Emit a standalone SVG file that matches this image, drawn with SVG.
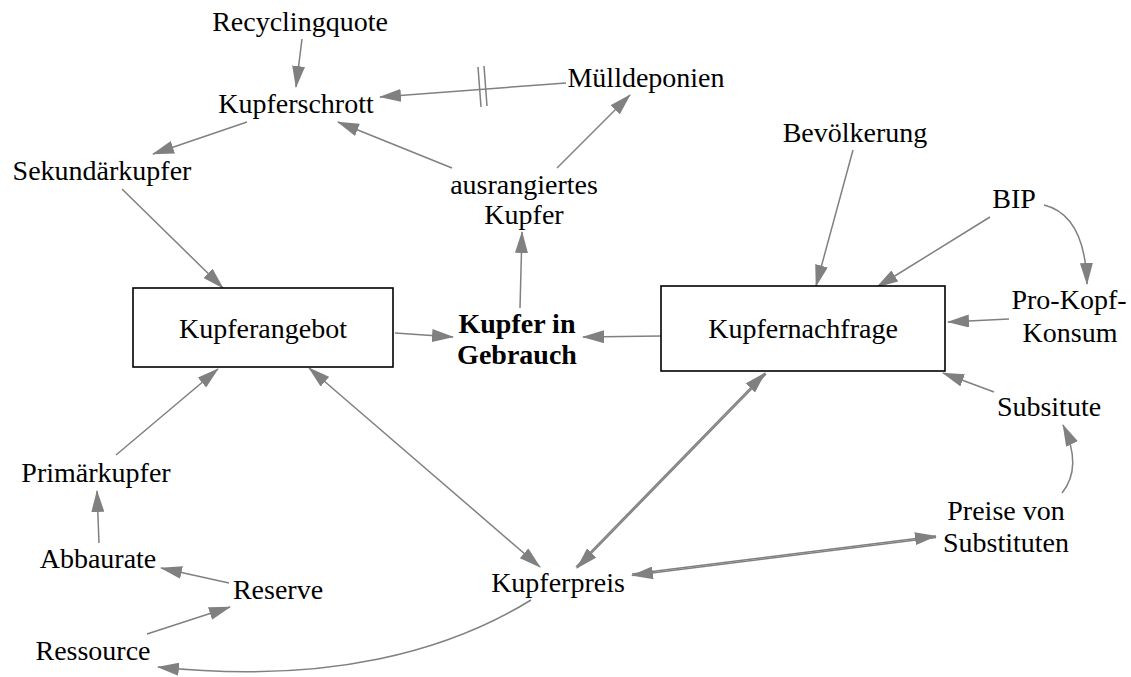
<svg xmlns="http://www.w3.org/2000/svg" width="1131" height="677" viewBox="0 0 1131 677">
<style>
.t text{font-size:28px;fill:#000;text-anchor:middle}
.b{font-weight:bold}
.box{fill:#fff;stroke:#000;stroke-width:1.6}
.c path,.c line{fill:none;stroke:#808080;stroke-width:1.5}
.c .a{marker-end:url(#arr)}
.c .aa{marker-start:url(#arr);marker-end:url(#arr)}
</style>
<defs>
<marker id="arr" markerUnits="userSpaceOnUse" viewBox="0 0 22 13" markerWidth="22" markerHeight="13" refX="21" refY="6.5" orient="auto-start-reverse">
<path d="M0,0 L22,6.5 L0,13 z" fill="#808080"/>
</marker>
</defs>
<rect width="1131" height="677" fill="#fff"/>
<g class="c" id="connectors">
<path class="a" d="M302,39 L296,87"/>
<path class="a" d="M566,83 L380,97"/>
<line x1="478" y1="67" x2="481" y2="107"/>
<line x1="484" y1="66" x2="487" y2="106"/>
<path class="a" d="M452,168 L338,122"/>
<path class="a" d="M557,168 L630,95"/>
<path class="a" d="M247,122 L153,154"/>
<path class="a" d="M122,189 L223,288"/>
<path class="a" d="M520,308 L522,232"/>
<path class="a" d="M395,333 L453,337"/>
<path class="a" d="M661,336 L583,337"/>
<path class="a" d="M853,150 L816,286"/>
<path class="a" d="M990,217 L877,287"/>
<path class="a" d="M1044,205 Q1085,215 1087,284"/>
<path class="a" d="M1009,319 L948,322"/>
<path class="a" d="M994,392 L943,373"/>
<path class="a" d="M1062,493 Q1083,467 1063,425"/>
<path class="a" d="M576,567 L765,373"/>
<path class="a" d="M766,374 L577,568"/>
<path class="a" d="M632,574 L936,536"/>
<path class="a" d="M936,537.5 L632,575.5"/>
<path class="aa" d="M309,368 L540,567"/>
<path class="a" d="M116,455 L218,369"/>
<path class="a" d="M99,543 L97,491"/>
<path class="a" d="M229,583 L161,568"/>
<path class="a" d="M147,634 L230,607"/>
<path class="a" d="M531,600 C450,650 330,685 158,667"/>
</g>
<g class="t" font-family="'Liberation Serif', 'Times New Roman', 'DejaVu Serif', serif">
<g id="recyclingquote"><text x="300" y="31">Recyclingquote</text></g>
<g id="kupferschrott"><text x="296" y="113">Kupferschrott</text></g>
<g id="muelldeponien"><text x="646" y="87">Mülldeponien</text></g>
<g id="sekundaerkupfer"><text x="102" y="180">Sekundärkupfer</text></g>
<g id="ausrangiertes-kupfer"><text x="524" y="194">ausrangiertes</text><text x="524" y="224">Kupfer</text></g>
<g id="bevoelkerung"><text x="855" y="142">Bevölkerung</text></g>
<g id="bip"><text x="1014" y="208">BIP</text></g>
<g id="kupferangebot"><rect class="box" x="133" y="288" width="260" height="79"/><text x="263" y="338">Kupferangebot</text></g>
<g id="kupfer-in-gebrauch"><text class="b" x="517" y="333">Kupfer in</text><text class="b" x="517" y="364">Gebrauch</text></g>
<g id="kupfernachfrage"><rect class="box" x="661" y="286" width="284" height="85"/><text x="803" y="338">Kupfernachfrage</text></g>
<g id="pro-kopf-konsum"><text x="1069" y="309">Pro-Kopf-</text><text x="1070" y="342">Konsum</text></g>
<g id="subsitute"><text x="1049" y="416">Subsitute</text></g>
<g id="primaerkupfer"><text x="96" y="482">Primärkupfer</text></g>
<g id="preise-von-substituten"><text x="1006" y="520">Preise von</text><text x="1006" y="552">Substituten</text></g>
<g id="abbaurate"><text x="98" y="568">Abbaurate</text></g>
<g id="reserve"><text x="278" y="599">Reserve</text></g>
<g id="kupferpreis"><text x="558" y="592">Kupferpreis</text></g>
<g id="ressource"><text x="93" y="660">Ressource</text></g>
</g>
</svg>
